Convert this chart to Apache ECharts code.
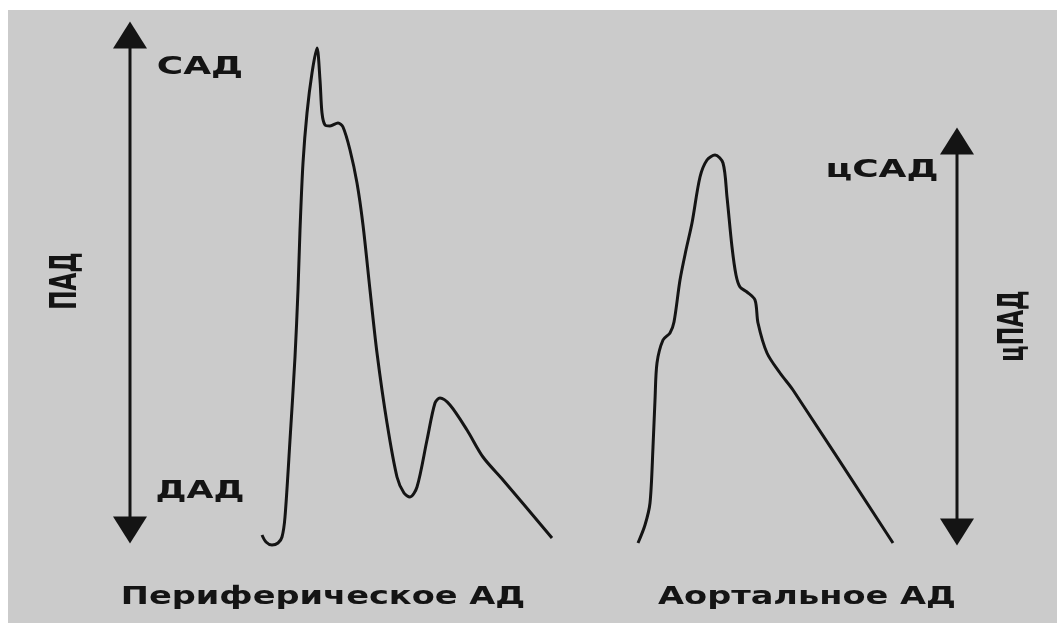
<!DOCTYPE html>
<html><head><meta charset="utf-8">
<script src="https://cdn.jsdelivr.net/npm/echarts@6/dist/echarts.min.js"></script>
<style>html,body{margin:0;padding:0;background:#fff}#c{width:1057px;height:623px}</style>
</head><body><div id="c"></div>
<script>
// Arbitrary units: time (x) and pressure (y)
var peripheralT = [262,266,272,278,282,285,290,295,298,300,303,307,312,317,320,322,325,330,338,343,350,357,363,370,377,387,397,404,410,417,427,435,440,450,467,483,503,552];
var peripheralP = [88,81,78,80,86,106,183,266,333,393,460,510,550,575,543,510,498,497,500,496,473,440,398,333,270,200,146,130,126,136,183,220,225,218,193,166,143,85];
var aorticT = [638,645,650,653,655,657,663,670,674,680,686,692,700,707,715,723,727,732,736,740,747,755,758,767,780,793,893];
var aorticP = [80,98,120,176,223,260,283,290,301,343,373,400,446,463,468,460,426,376,348,336,331,323,300,270,250,233,80];
// Range arrows: [time, pressureLow, pressureHigh]
var padArrow = [130, 93, 588];
var cpadArrow = [957, 91, 482];
var labels = ['САД', 'ДАД', 'цСАД', 'ПАД', 'цПАД', 'Периферическое АД', 'Аортальное АД'];

function zip(a, b) { return a.map(function (v, i) { return [v, b[i]]; }); }

var chart = echarts.init(document.getElementById('c'));
var ink = '#141414';
var font = '"DejaVu Sans", Verdana, sans-serif';
function txt(s, x, y, size, sx, sy, rot) {
  return {
    type: 'text', x: x, y: y, rotation: rot || 0, scaleX: sx, scaleY: sy, z: 10,
    style: { text: s, fill: ink, font: 'bold ' + size + 'px ' + font, textAlign: 'center', textVerticalAlign: 'middle' }
  };
}
function shaft(a) {
  return { type: 'line', data: [[a[0], a[1]], [a[0], a[2]]], symbol: 'none', silent: true,
    lineStyle: { color: ink, width: 3 } };
}
var heads = [
  { value: [padArrow[0], padArrow[2]], symbolRotate: 0 },
  { value: [padArrow[0], padArrow[1]], symbolRotate: 180 },
  { value: [cpadArrow[0], cpadArrow[2]], symbolRotate: 0 },
  { value: [cpadArrow[0], cpadArrow[1]], symbolRotate: 180 }
];
chart.setOption({
  backgroundColor: '#ffffff',
  animation: false,
  grid: { left: 0, right: 0, top: 0, bottom: 0 },
  xAxis: { type: 'value', min: 0, max: 1057, show: false },
  yAxis: { type: 'value', min: 0, max: 623, show: false },
  graphic: [
    { type: 'rect', shape: { x: 8, y: 10, width: 1049, height: 613 }, style: { fill: '#cbcbcb' }, z: -10, silent: true },
    txt(labels[0], 200, 68, 24, 1.5, 1),
    txt(labels[1], 200, 492, 24, 1.45, 1),
    txt(labels[2], 882, 171, 24, 1.5, 1),
    txt(labels[3], 66, 281, 23, 1, 1.6, Math.PI / 2),
    txt(labels[4], 1014, 326, 22, 1, 1.65, Math.PI / 2),
    txt(labels[5], 323, 598, 24, 1.4, 1),
    txt(labels[6], 807, 598, 24, 1.4, 1)
  ],
  series: [
    {
      type: 'line', data: zip(peripheralT, peripheralP), smooth: 0.3, symbol: 'none',
      lineStyle: { color: ink, width: 3 }
    },
    {
      type: 'line', data: zip(aorticT, aorticP), smooth: 0.3, symbol: 'none',
      lineStyle: { color: ink, width: 3 }
    },
    shaft(padArrow),
    shaft(cpadArrow),
    {
      type: 'scatter', data: heads, symbol: 'triangle', symbolSize: [34, 27], silent: true,
      itemStyle: { color: ink, opacity: 1 }, z: 5
    }
  ]
});
</script></body></html>
